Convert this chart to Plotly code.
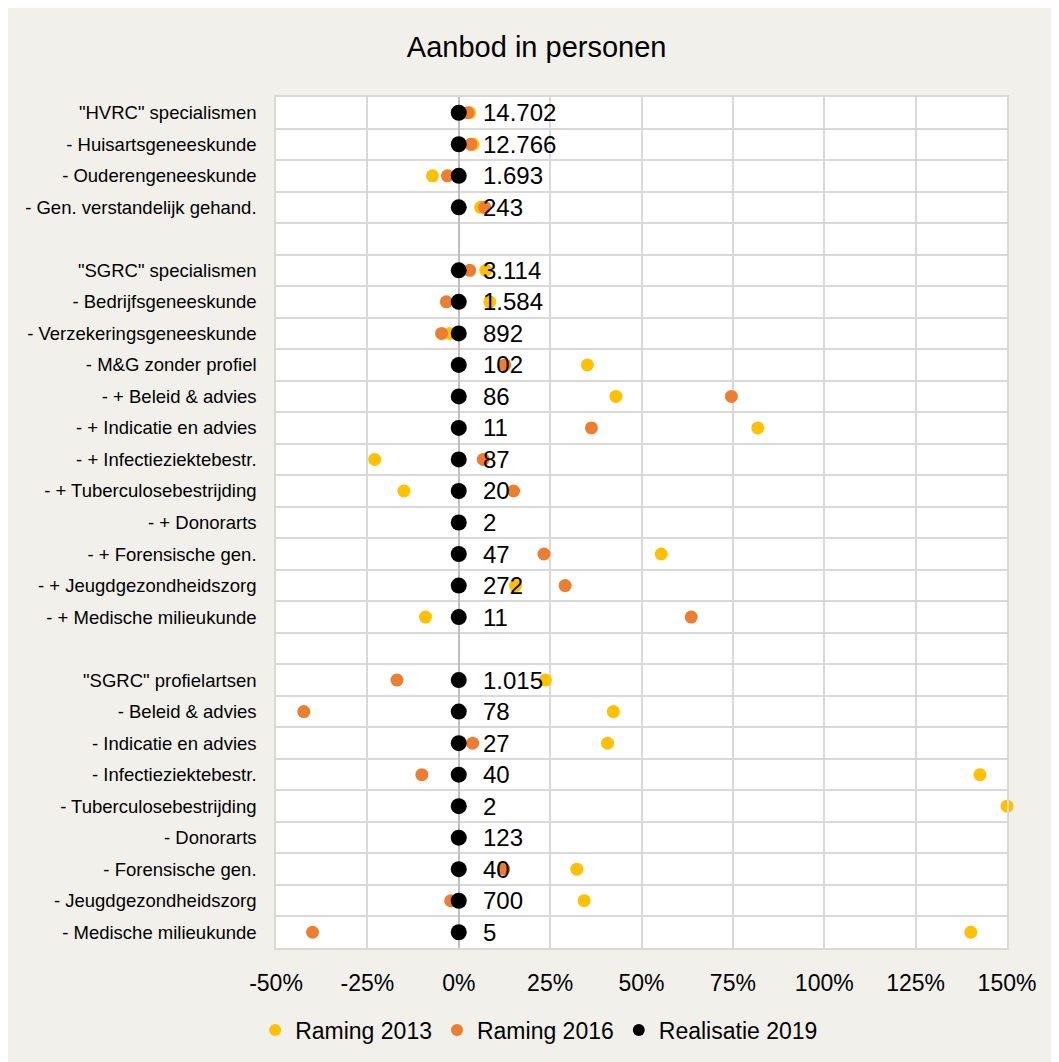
import plotly.graph_objects as go

categories = [
    '"HVRC" specialismen', '- Huisartsgeneeskunde', '- Ouderengeneeskunde',
    '- Gen. verstandelijk gehand.', ' ',
    '"SGRC" specialismen', '- Bedrijfsgeneeskunde', '- Verzekeringsgeneeskunde',
    '- M&G zonder profiel', '- + Beleid & advies', '- + Indicatie en advies',
    '- + Infectieziektebestr.', '- + Tuberculosebestrijding', '- + Donorarts',
    '- + Forensische gen.', '- + Jeugdgezondheidszorg', '- + Medische milieukunde',
    '  ',
    '"SGRC" profielartsen', '- Beleid & advies', '- Indicatie en advies',
    '- Infectieziektebestr.', '- Tuberculosebestrijding', '- Donorarts',
    '- Forensische gen.', '- Jeugdgezondheidszorg', '- Medische milieukunde',
]

# percentage deviation
raming_2013 = [3.0, 3.9, -7.2, 6.0, None, 7.4, 8.5, -2.5, 35.2, 43.0, 81.8, -23.0,
               -15.0, None, 55.4, 15.5, -9.1, None, 23.7, 42.3, 40.7, 142.6, 150.0,
               None, 32.3, 34.3, 140.1]
raming_2016 = [2.5, 3.3, -3.1, 7.1, None, 3.0, -3.4, -4.7, 12.6, 74.6, 36.3, 6.7,
               15.0, None, 23.3, 29.1, 63.6, None, -16.9, -42.4, 3.8, -10.1, None,
               None, 12.3, -2.2, -40.0]
realisatie_2019 = [0, 0, 0, 0, None, 0, 0, 0, 0, 0, 0, 0, 0, 0, 0, 0, 0, None,
                   0, 0, 0, 0, 0, 0, 0, 0, 0]
aanbod_2019 = [14702, 12766, 1693, 243, None, 3114, 1584, 892, 102, 86, 11, 87, 20, 2,
               47, 272, 11, None, 1015, 78, 27, 40, 2, 123, 40, 700, 5]

x_tick_vals = [-50, -25, 0, 25, 50, 75, 100, 125, 150]
x_tick_labels = ["-50%", "-25%", "0%", "25%", "50%", "75%", "100%", "125%", "150%"]

FONT = "Liberation Sans, Arial, sans-serif"
BG = "#F1F0EA"
GRID = "#D9D9D9"


def pct(vals):
    return [None if v is None else v / 100 for v in vals]


fig = go.Figure()
fig.add_trace(go.Scatter(
    x=pct(raming_2013), y=categories, mode="markers", name="Raming 2013",
    marker=dict(color="#FFC000", size=13), cliponaxis=False))
fig.add_trace(go.Scatter(
    x=pct(raming_2016), y=categories, mode="markers", name="Raming 2016",
    marker=dict(color="#ED7D31", size=13), cliponaxis=False))
fig.add_trace(go.Scatter(
    x=pct(realisatie_2019), y=categories, mode="markers", name="Realisatie 2019",
    marker=dict(color="#000000", size=16), cliponaxis=False))

for cat, val, n in zip(categories, realisatie_2019, aanbod_2019):
    if n is None:
        continue
    fig.add_annotation(
        x=val / 100, y=cat, xref="x", yref="y", text=f"{n:,}".replace(",", "."),
        showarrow=False, xanchor="left", yanchor="middle", xshift=22,
        font=dict(family=FONT, size=24, color="#000000"))

fig.update_layout(
    width=1051, height=1054,
    paper_bgcolor=BG, plot_bgcolor="#FFFFFF",
    margin=dict(l=268, r=52, t=89, b=113),
    font=dict(family=FONT, color="#000000"),
    title=dict(text="Aanbod in personen", x=0.503, xanchor="center",
               y=1 - 39 / 1054, yanchor="middle",
               font=dict(family=FONT, size=29, color="#000000")),
    showlegend=True,
    legend=dict(orientation="h", x=0.36, xanchor="center", y=-0.095,
                yanchor="middle", font=dict(family=FONT, size=23),
                bgcolor="rgba(0,0,0,0)", itemsizing="constant"),
)

fig.update_xaxes(
    range=[-0.5, 1.5], tickvals=[v / 100 for v in x_tick_vals], ticktext=x_tick_labels,
    showgrid=True, gridcolor=GRID, gridwidth=1.5,
    zeroline=True, zerolinecolor="#BFBFBF", zerolinewidth=2,
    showline=True, linecolor=GRID, linewidth=1.5, mirror=True,
    ticks="", ticklabelstandoff=14, tickfont=dict(family=FONT, size=23),
)
fig.update_yaxes(
    type="category", categoryorder="array", categoryarray=categories,
    range=[len(categories) - 0.5, -0.5], tickson="boundaries",
    showgrid=True, gridcolor=GRID, gridwidth=1.5,
    showline=True, linecolor=GRID, linewidth=1.5, mirror=True,
    ticks="", ticklabelstandoff=14, tickfont=dict(family=FONT, size=18.5),
)

fig.write_html("out.html")
